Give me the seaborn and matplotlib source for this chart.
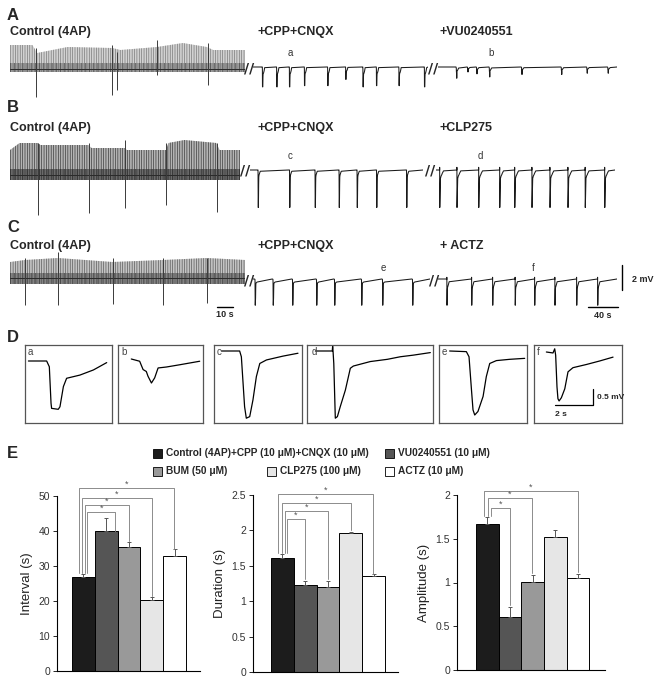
import numpy as np
import pandas as pd
import matplotlib
matplotlib.use('Agg')
from matplotlib import pyplot as plt
from matplotlib.patches import Rectangle
import seaborn as sns

sns.set_style('ticks')
plt.rcParams['font.family'] = ['Liberation Sans', 'DejaVu Sans']
plt.rcParams['hatch.linewidth'] = 0.45

W, H = 654, 680
PX_MV = 12.5      # rows A-C, px per mV (2 mV bar)
PX_S_CTRL = 1.6   # control segments, px per s (10 s bar)
PX_S_DRUG = 0.75  # drug segments, px per s (40 s bar)
PX_MV_D = 32.0    # panel D, px per mV (0.5 mV bar)
PX_S_D = 19.0     # panel D, px per s (2 s bar)

# ---------------- control (4AP) bursting, envelope in mV from baseline
ctrl_A_t = [0, 14, 17, 36, 64, 69, 92, 108, 123, 127, 147]
ctrl_A_top = [1.76, 1.76, 1.12, 1.6, 1.52, 1.36, 1.6, 1.92, 1.6, 1.36, 1.36]
ctrl_A_bot, ctrl_A_floor = -0.4, -0.16
ctrl_A_spk_t = [16, 64, 67, 92, 124]
ctrl_A_spk_lo = [-2.4, -2.24, -1.84, -0.64, -1.44]
ctrl_A_spk_hi = [1.52, 1.76, 1.2, 2.16, 1.92]

ctrl_B_t = [0, 6, 17.5, 19, 49, 51, 72, 73, 97.5, 99, 109, 129, 131, 144]
ctrl_B_top = [1.6, 2.16, 2.16, 2.0, 2.0, 1.76, 1.76, 1.6, 1.6, 2.16, 2.4, 2.16, 1.6, 1.6]
ctrl_B_bot, ctrl_B_floor = -0.8, -0.4
ctrl_B_spk_t = [17.5, 49.4, 71.9, 97.5, 129.4]
ctrl_B_spk_lo = [-3.6, -3.44, -3.04, -2.8, -3.36]
ctrl_B_spk_hi = [2.16, 2.16, 2.4, 2.16, 2.16]

ctrl_C_t = [0, 9.4, 30, 64, 95.6, 123, 147]
ctrl_C_top = [1.36, 1.52, 1.68, 1.36, 1.52, 1.68, 1.52]
ctrl_C_bot, ctrl_C_floor = -0.4, 0.05
ctrl_C_spk_t = [9.4, 30, 64.4, 95.6, 123]
ctrl_C_spk_lo = [-2.1, -2.1, -2.0, -2.1, -1.9]
ctrl_C_spk_hi = [1.7, 2.16, 1.7, 1.7, 1.7]

# ---------------- drug segments: event times (s) and amplitudes (mV)
cpp_A_t = [13, 32, 49, 69, 100, 124, 147, 165, 195, 229]
cpp_A_amp = [1.6, 1.6, 1.6, 1.5, 1.5, 1.0, 1.6, 1.5, 1.5, 1.6]
vu_A_t = [25, 40, 52, 69, 112, 165, 199, 227]
vu_A_amp = [0.9, 0.4, 0.55, 0.8, 0.6, 0.6, 0.5, 0.5]
cpp_B_t = [11, 53, 87, 119, 143, 169, 209]
cpp_B_amp = [3.0, 3.0, 3.0, 3.0, 3.0, 3.0, 3.0]
clp_B_t = [5, 28, 57, 85, 105, 128, 152, 176, 199, 225]
clp_B_amp = [3.0, 3.0, 3.0, 3.0, 3.0, 3.0, 3.0, 3.0, 3.0, 3.0]
cpp_C_t = [3, 27, 53, 85, 109, 145, 173, 213]
cpp_C_amp = [2.1, 2.1, 2.1, 2.1, 2.1, 2.1, 2.1, 2.1]
actz_C_t = [12, 45, 73, 103, 129, 156, 185, 213]
actz_C_amp = [2.1, 2.1, 2.1, 2.1, 2.1, 2.1, 2.1, 2.1]

# ---------------- panel D single events (s, mV)
wave_a_t = [0.18, 1.14, 1.28, 1.37, 1.40, 1.75, 1.84, 2.02, 2.19, 2.89, 3.60, 4.30]
wave_a_v = [0, 0, -0.18, -1.32, -1.48, -1.51, -1.43, -0.80, -0.54, -0.44, -0.28, -0.05]
wave_b_t = [0.70, 1.14, 1.32, 1.49, 1.58, 1.76, 1.93, 2.11, 2.55, 3.25, 4.30]
wave_b_v = [0, -0.07, -0.33, -0.39, -0.54, -0.75, -0.59, -0.28, -0.25, -0.18, -0.07]
wave_c_t = [0.39, 1.35, 1.44, 1.61, 1.70, 1.88, 2.05, 2.23, 2.41, 2.76, 3.63, 4.42]
wave_c_v = [0, 0, -0.18, -1.74, -2.10, -2.05, -1.53, -0.80, -0.39, -0.28, -0.16, -0.07]
wave_d_t = [0.44, 1.33, 1.35, 1.37, 1.41, 1.49, 1.60, 1.75, 2.02, 2.28, 2.44, 3.33, 4.23, 4.91, 5.59, 6.49]
wave_d_v = [0, 0, 0.15, 0, -0.39, -2.10, -2.05, -1.74, -1.22, -0.54, -0.47, -0.33, -0.26, -0.18, -0.13, -0.05]
wave_e_t = [0.56, 1.44, 1.58, 1.71, 1.79, 1.88, 2.05, 2.32, 2.49, 2.67, 3.02, 3.72, 4.51]
wave_e_v = [0, -0.02, -0.18, -1.22, -1.84, -2.0, -1.89, -1.42, -0.80, -0.39, -0.30, -0.26, -0.23]
wave_f_t = [0.65, 1.0, 1.09, 1.14, 1.21, 1.26, 1.32, 1.44, 1.62, 1.79, 2.05, 2.76, 3.46, 4.16]
wave_f_v = [0, -0.03, 0.10, -0.10, -1.09, -1.46, -1.53, -1.43, -1.15, -0.62, -0.49, -0.39, -0.28, -0.16]

# ---------------- panel E
conditions = ['Control', 'VU0240551', 'BUM', 'CLP275', 'ACTZ']
legend_labels = ['Control (4AP)+CPP (10 \u03bcM)+CNQX (10 \u03bcM)', 'VU0240551 (10 \u03bcM)',
                 'BUM (50 \u03bcM)', 'CLP275 (100 \u03bcM)', 'ACTZ (10 \u03bcM)']
bar_colors = ['#1c1c1c', '#555555', '#999999', '#e6e6e6', '#ffffff']
interval = [26.8, 40.0, 35.4, 20.3, 32.9]
interval_err = [1.0, 3.6, 1.5, 0.9, 1.9]
duration = [1.61, 1.23, 1.20, 1.96, 1.36]
duration_err = [0.06, 0.06, 0.09, 0.02, 0.02]
amplitude = [1.67, 0.61, 1.01, 1.52, 1.05]
amplitude_err = [0.08, 0.11, 0.08, 0.08, 0.05]

# significance brackets: left x, top, right x, right end
interval_sig = ([0.16, 0.07, -0.06, -0.19], [45.5, 47.4, 49.3, 52.2],
                [1.39, 2.0, 3.0, 3.97], [40.0, 37.2, 21.5, 35.0], 28.0)
duration_sig = ([0.20, 0.11, -0.02, -0.19], [2.16, 2.27, 2.39, 2.51],
                [0.99, 2.0, 3.0, 3.97], [1.31, 1.31, 2.0, 1.39], 1.68)
amplitude_sig = ([0.16, 0.03, -0.15], [1.85, 1.97, 2.05],
                 [0.98, 1.98, 4.0], [0.74, 1.11, 1.12], 1.76)

fig = plt.figure(figsize=(W / 100, H / 100), dpi=100)


def px_axes(x0, y0, x1, y1):
    return fig.add_axes([x0 / W, 1 - y1 / H, (x1 - x0) / W, (y1 - y0) / H])


def ftext(x, y, s, **kw):
    kw.setdefault('va', 'center')
    fig.text(x / W, 1 - y / H, s, **kw)


def trace_axes(x0, x1, base, px_s):
    ax = px_axes(x0, base - 45, x1, base + 50)
    ax.set_xlim(0, (x1 - x0) / px_s)
    ax.set_ylim(-50 / PX_MV, 45 / PX_MV)
    ax.axis('off')
    return ax


def draw_control(ax, t, top, bot, floor, spk_t, spk_lo, spk_hi, face, hcol):
    ax.fill_between(t, bot, top, facecolor=face, edgecolor=hcol, hatch='|||||||', linewidth=0)
    # darker, denser lower part of the burst band
    ax.fill_between(t, bot, floor + 0.45, facecolor=hcol, edgecolor='#1a1a1a', hatch='||||',
                    linewidth=0, alpha=0.55)
    ax.axhline(floor, color='#2a2a2a', lw=0.7)
    ax.vlines(spk_t, spk_lo, spk_hi, color='#3a3a3a', lw=0.7)


def draw_events(ax, ev_t, ev_amp, wt, wv):
    ipk = int(np.argmin(wv))
    pk = -min(wv)
    tt, vv = [0.0], [0.0]
    for te, a in zip(ev_t, ev_amp):
        for tk, vk in zip(wt, wv):
            tt.append(te + tk - wt[ipk])
            vv.append(a * vk / pk)
    tt.append(ax.get_xlim()[1])
    vv.append(0.0)
    sns.lineplot(x=tt, y=vv, sort=False, estimator=None, color='#1a1a1a', lw=0.75, ax=ax)


rows = [
    dict(letter='A', ly=15, ty=32, base=67, ctrl=(10, 245), cpp=(253, 428), drug=(438, 617),
         brk=(249, 433), drug_name='+VU0240551',
         cdata=(ctrl_A_t, ctrl_A_top, ctrl_A_bot, ctrl_A_floor, ctrl_A_spk_t, ctrl_A_spk_lo, ctrl_A_spk_hi),
         look=('#d2d2d2', '#707070'),
         ev1=(cpp_A_t, cpp_A_amp, wave_a_t, wave_a_v), ev2=(vu_A_t, vu_A_amp, wave_b_t, wave_b_v),
         tags=(('a', 290, 53), ('b', 491, 53))),
    dict(letter='B', ly=108, ty=128, base=170, ctrl=(10, 240), cpp=(250, 423), drug=(436, 615),
         brk=(245, 430), drug_name='+CLP275',
         cdata=(ctrl_B_t, ctrl_B_top, ctrl_B_bot, ctrl_B_floor, ctrl_B_spk_t, ctrl_B_spk_lo, ctrl_B_spk_hi),
         look=('#b4b4b4', '#2e2e2e'),
         ev1=(cpp_B_t, cpp_B_amp, wave_c_t, wave_c_v), ev2=(clp_B_t, clp_B_amp, wave_d_t, wave_d_v),
         tags=(('c', 290, 156), ('d', 480, 156))),
    dict(letter='C', ly=228, ty=246, base=279, ctrl=(10, 245), cpp=(253, 430), drug=(438, 617),
         brk=(249, 434), drug_name='+ ACTZ',
         cdata=(ctrl_C_t, ctrl_C_top, ctrl_C_bot, ctrl_C_floor, ctrl_C_spk_t, ctrl_C_spk_lo, ctrl_C_spk_hi),
         look=('#c4c4c4', '#505050'),
         ev1=(cpp_C_t, cpp_C_amp, wave_e_t, wave_e_v), ev2=(actz_C_t, actz_C_amp, wave_f_t, wave_f_v),
         tags=(('e', 383, 268), ('f', 533, 268))),
]

row_axes = []
for r in rows:
    ftext(7, r['ly'], r['letter'], fontsize=12, fontweight='bold')
    ftext(10, r['ty'], 'Control (4AP)', fontsize=9, fontweight='bold')
    ftext(258, r['ty'], '+CPP+CNQX', fontsize=9, fontweight='bold')
    ftext(440, r['ty'], r['drug_name'], fontsize=9, fontweight='bold')
    for s, x, y in r['tags']:
        ftext(x, y, s, fontsize=7, color='#333333', ha='center')
    for x in r['brk']:
        ftext(x, r['base'] + 1, '//', fontsize=10, fontweight='bold', ha='center',
              family='DejaVu Sans')
    ax0 = trace_axes(*r['ctrl'], r['base'], PX_S_CTRL)
    draw_control(ax0, *r['cdata'], *r['look'])
    ax1 = trace_axes(*r['cpp'], r['base'], PX_S_DRUG)
    draw_events(ax1, *r['ev1'])
    ax2 = trace_axes(*r['drug'], r['base'], PX_S_DRUG)
    draw_events(ax2, *r['ev2'])
    row_axes.append((ax0, ax1, ax2))

# scale bars for A-C
axc0, _, axc2 = row_axes[2]
bar_v = -28 / PX_MV
axc0.plot([129.4, 139.4], [bar_v, bar_v], color='black', lw=1.0, clip_on=False)
axc0.text(134.4, bar_v - 0.25, '10 s', ha='center', va='top', fontsize=6.5, fontweight='bold')
axc2.plot([200, 240], [bar_v, bar_v], color='black', lw=1.0, clip_on=False)
axc2.text(220, bar_v - 0.35, '40 s', ha='center', va='top', fontsize=6.5, fontweight='bold')
axc2.plot([245.3, 245.3], [-0.88, 1.12], color='black', lw=1.0, clip_on=False)
axc2.text(258, 0.0, '2 mV', ha='left', va='center', fontsize=6.5, fontweight='bold')

# ---------------- panel D
ftext(7, 337, 'D', fontsize=12, fontweight='bold')
d_boxes = [('a', 25, 112, 16, wave_a_t, wave_a_v), ('b', 118, 203, 14, wave_b_t, wave_b_v),
           ('c', 214, 302, 6, wave_c_t, wave_c_v), ('d', 307, 433, 6, wave_d_t, wave_d_v),
           ('e', 439, 527, 6, wave_e_t, wave_e_v), ('f', 534, 622, 7, wave_f_t, wave_f_v)]
for name, x0, x1, off, wt, wv in d_boxes:
    ax = px_axes(x0, 345, x1, 423)
    sns.lineplot(x=wt, y=wv, sort=False, estimator=None, color='black', lw=0.9, ax=ax)
    ax.set_xlim(0, (x1 - x0) / PX_S_D)
    ax.set_ylim(-(78 - off) / PX_MV_D, off / PX_MV_D)
    ax.set_xticks([])
    ax.set_yticks([])
    ax.set_xlabel('')
    ax.set_ylabel('')
    for sp in ax.spines.values():
        sp.set_color('#555555')
        sp.set_linewidth(0.9)
    ax.text(0.035, 0.97, name, transform=ax.transAxes, ha='left', va='top', fontsize=7, color='#444444')
    if name == 'f':
        ax.plot([1.09, 3.09, 3.09], [-1.66, -1.66, -1.16], color='black', lw=0.9)
        ax.text(3.3, -1.41, '0.5 mV', ha='left', va='center', fontsize=6, fontweight='bold')
        ax.text(1.4, -1.85, '2 s', ha='center', va='top', fontsize=6, fontweight='bold')

# ---------------- panel E
ftext(7, 453, 'E', fontsize=12, fontweight='bold')
leg_pos = [(153, 453), (385, 453), (153, 471), (267, 471), (385, 471)]
for (x, y), lab, c in zip(leg_pos, legend_labels, bar_colors):
    fig.add_artist(Rectangle((x / W, 1 - (y + 4.5) / H), 9 / W, 9 / H, transform=fig.transFigure,
                             facecolor=c, edgecolor='black', lw=0.6))
    ftext(x + 13, y, lab, fontsize=7.3, fontweight='bold')


def bar_panel(rect, vals, errs, ylim, yticks, ytl, ylabel, xlim, sig):
    ax = px_axes(*rect)
    df = pd.DataFrame({'cond': conditions, 'val': vals})
    sns.barplot(data=df, x='cond', y='val', hue='cond', order=conditions, hue_order=conditions,
                palette=bar_colors, edgecolor='black', linewidth=0.7, width=1.0,
                legend=False, errorbar=None, ax=ax)
    ax.errorbar(range(len(vals)), vals, yerr=[np.zeros(len(vals)), errs], fmt='none',
                ecolor='#555555', elinewidth=0.7, capsize=1.5, capthick=0.7)
    x0s, tops, x1s, y1s, lb = sig
    for x0, top, x1, y1 in zip(x0s, tops, x1s, y1s):
        ax.plot([x0, x0, x1, x1], [lb, top, top, y1], color='#8c8c8c', lw=0.7, clip_on=False)
        ax.annotate('*', ((x0 + x1) / 2, top), xytext=(0, -0.5), textcoords='offset points',
                    ha='center', va='bottom', fontsize=6.5, color='#555555', annotation_clip=False)
    ax.set_xlim(*xlim)
    ax.set_ylim(*ylim)
    ax.set_yticks(yticks)
    ax.set_yticklabels(ytl)
    ax.set_xticks([])
    ax.set_xlabel('')
    ax.set_ylabel(ylabel, fontsize=9.5, color='#222222', labelpad=4)
    sns.despine(ax=ax)
    for sp in ('left', 'bottom'):
        ax.spines[sp].set_linewidth(0.8)
        ax.spines[sp].set_color('black')
    ax.tick_params(axis='y', direction='out', length=3, width=0.7, labelsize=7.5,
                   labelcolor='#333333', pad=2)
    return ax


bar_panel((57, 496, 200, 671), interval, interval_err, (0, 50), [0, 10, 20, 30, 40, 50],
          ['0', '10', '20', '30', '40', '50'], 'Interval (s)', (-1.16, 5.11), interval_sig)
bar_panel((253, 495, 398, 672), duration, duration_err, (0, 2.5), [0, 0.5, 1, 1.5, 2, 2.5],
          ['0', '0.5', '1', '1.5', '2', '2.5'], 'Duration (s)', (-1.29, 5.07), duration_sig)
bar_panel((457, 495, 605, 670), amplitude, amplitude_err, (0, 2), [0, 0.5, 1, 1.5, 2],
          ['0', '0.5', '1', '1.5', '2'], 'Amplitude (s)', (-1.34, 5.2), amplitude_sig)

fig.savefig('out.png', dpi=100)
